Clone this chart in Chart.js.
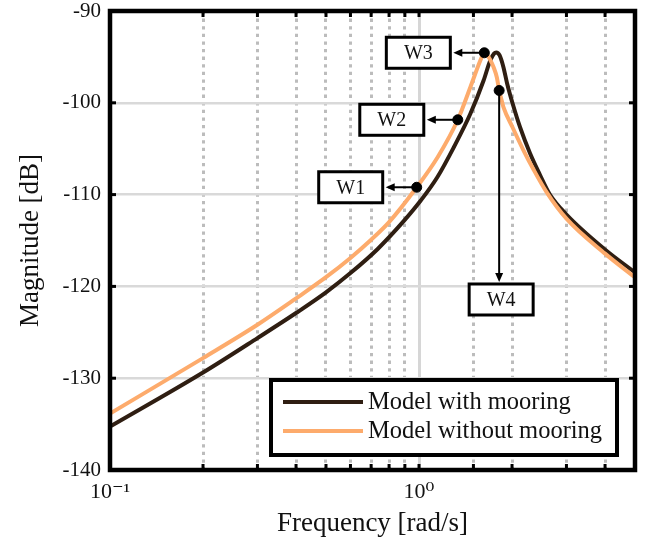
<!DOCTYPE html>
<html>
<head>
<meta charset="utf-8">
<script src="https://cdn.jsdelivr.net/npm/chart.js@4.4.0/dist/chart.umd.min.js"></script>
<style>
  html, body { margin: 0; padding: 0; background: #fff; }
  #wrap { width: 654px; height: 548px; }
</style>
</head>
<body>
<div id="wrap"><canvas id="chart" width="654" height="548"></canvas></div>
<script>
// Series (frequency in rad/s, magnitude in dB)
const seriesNames = ['Model with mooring', 'Model without mooring'];

const freqWith = [0.1, 0.2, 0.3, 0.4, 0.5, 0.6, 0.735, 0.895, 1.013, 1.146, 1.296, 1.466, 1.618, 1.70, 1.7515, 1.777, 1.824, 1.876, 1.928, 2.0055, 2.123, 2.2865, 2.462, 2.652, 3.0, 4.005, 5.0];
const magWith = [-135.27, -129.38, -125.63, -122.90, -120.65, -118.55, -115.92, -112.84, -110.65, -108.11, -104.84, -101.20, -97.57, -95.39, -94.62, -94.51, -94.84, -96.12, -97.90, -100.0, -102.66, -105.50, -107.84, -109.99, -112.17, -116.0, -118.48];

const freqWithout = [0.1, 0.2, 0.3, 0.4, 0.5, 0.6, 0.7, 0.8, 0.983, 1.15, 1.335, 1.466, 1.579, 1.6085, 1.627, 1.663, 1.7003, 1.7448, 1.7864, 1.817, 1.8537, 1.876, 2.0055, 2.1757, 2.343, 2.5873, 3.0, 4.0, 5.0];
const magWithout = [-133.85, -127.81, -124.18, -121.31, -119.0, -116.9, -114.92, -113.0, -109.2, -105.9, -101.85, -98.3, -95.39, -94.79, -94.55, -94.79, -95.33, -96.15, -97.24, -98.66, -99.80, -100.46, -102.64, -105.15, -107.22, -109.73, -112.62, -116.43, -119.02];

// Marked points (on the curve without mooring)
const markLabels = ['W1', 'W2', 'W3', 'W4'];
const markFreq = [0.983, 1.335, 1.627, 1.817];
const markMag = [-109.2, -101.85, -94.55, -98.66];

const yTickValues = [-140, -130, -120, -110, -100, -90];
const xMajorLabels = ['10⁻¹', '10⁰'];

// label box placement relative to each dot (pixels)
const markBoxOffset = [[-66, 0], [-66, 0], [-66, 0], [2, 209]];

const SERIF = '"Liberation Serif", "DejaVu Serif", serif';
const colWith = '#2f1e12';
const colWithout = '#fdab6c';

function toPoints(xs, ys) {
    return xs.map((x, i) => ({ x: x, y: ys[i] }));
}

function isDecade(v) {
    const l = Math.log10(v);
    return Math.abs(l - Math.round(l)) < 1e-6;
}

// frame, inward ticks, annotations and legend
const decorPlugin = {
    id: 'decor',
    afterDraw(chart) {
        const ctx = chart.ctx;
        const a = chart.chartArea;
        const xs = chart.scales.x, ys = chart.scales.y;
        ctx.save();

        // inward tick marks
        ctx.fillStyle = '#000';
        xs.ticks.forEach(t => {
            const px = xs.getPixelForValue(t.value);
            ctx.fillRect(px - 1.5, a.bottom - 6, 3, 6);
            ctx.fillRect(px - 1.5, a.top, 3, 6);
        });
        yTickValues.forEach(v => {
            const py = ys.getPixelForValue(v);
            ctx.fillRect(a.left, py - 1.5, 6, 3);
            ctx.fillRect(a.right - 6, py - 1.5, 6, 3);
        });

        // frame
        ctx.strokeStyle = '#000';
        ctx.lineWidth = 4.5;
        ctx.strokeRect(a.left, a.top, a.right - a.left, a.bottom - a.top);

        // annotation boxes and arrows
        const bw = 64, bh = 31;
        markLabels.forEach((lab, i) => {
            const px = xs.getPixelForValue(markFreq[i]);
            const py = ys.getPixelForValue(markMag[i]);
            const cx = px + markBoxOffset[i][0];
            const cy = py + markBoxOffset[i][1];
            ctx.strokeStyle = '#000';
            ctx.fillStyle = '#000';
            ctx.lineWidth = 2;
            let tipX, tipY;
            if (markBoxOffset[i][1] === 0) {
                tipX = cx + bw / 2 + 3; tipY = py;
                ctx.beginPath(); ctx.moveTo(px, py); ctx.lineTo(tipX + 6, tipY); ctx.stroke();
                ctx.beginPath();
                ctx.moveTo(tipX, tipY);
                ctx.lineTo(tipX + 9, tipY - 4);
                ctx.lineTo(tipX + 9, tipY + 4);
                ctx.closePath(); ctx.fill();
            } else {
                tipX = px; tipY = cy - bh / 2 - 2;
                ctx.beginPath(); ctx.moveTo(px, py); ctx.lineTo(tipX, tipY - 6); ctx.stroke();
                ctx.beginPath();
                ctx.moveTo(tipX, tipY);
                ctx.lineTo(tipX - 4, tipY - 9);
                ctx.lineTo(tipX + 4, tipY - 9);
                ctx.closePath(); ctx.fill();
            }
            ctx.fillStyle = '#fff';
            ctx.fillRect(cx - bw / 2, cy - bh / 2, bw, bh);
            ctx.lineWidth = 3;
            ctx.strokeRect(cx - bw / 2, cy - bh / 2, bw, bh);
            ctx.fillStyle = '#111';
            ctx.font = '20px ' + SERIF;
            ctx.textAlign = 'center';
            ctx.textBaseline = 'middle';
            ctx.fillText(lab, cx, cy + 1);
        });

        // legend
        const lw = 346, lh = 75;
        const lx = a.right - 18 - lw, ly = a.bottom - 15 - lh;
        ctx.fillStyle = '#fff';
        ctx.fillRect(lx, ly, lw, lh);
        ctx.strokeStyle = '#000';
        ctx.lineWidth = 4;
        ctx.strokeRect(lx, ly, lw, lh);
        chart.data.datasets.slice(0, 2).forEach((ds, i) => {
            const yy = ly + 22 + i * 29;
            ctx.strokeStyle = ds.borderColor;
            ctx.lineWidth = 4;
            ctx.beginPath(); ctx.moveTo(lx + 12, yy); ctx.lineTo(lx + 92, yy); ctx.stroke();
            ctx.fillStyle = '#111';
            ctx.font = '24.5px ' + SERIF;
            ctx.textAlign = 'left';
            ctx.textBaseline = 'middle';
            ctx.fillText(ds.label, lx + 97, yy + 1);
        });
        ctx.restore();
    }
};

new Chart(document.getElementById('chart'), {
    type: 'line',
    data: {
        datasets: [
            {
                label: seriesNames[0],
                data: toPoints(freqWith, magWith),
                borderColor: colWith,
                borderWidth: 4,
                pointRadius: 0,
                cubicInterpolationMode: 'monotone',
                order: 2
            },
            {
                label: seriesNames[1],
                data: toPoints(freqWithout, magWithout),
                borderColor: colWithout,
                borderWidth: 4,
                pointRadius: 0,
                cubicInterpolationMode: 'monotone',
                order: 1
            },
            {
                type: 'scatter',
                label: 'marks',
                data: toPoints(markFreq, markMag),
                backgroundColor: '#000',
                borderColor: '#000',
                pointRadius: 5,
                order: 0
            }
        ]
    },
    options: {
        responsive: false,
        animation: false,
        devicePixelRatio: 1,
        layout: { padding: { top: 0, right: 19, left: 0, bottom: 0 } },
        plugins: {
            legend: { display: false },
            tooltip: { enabled: false }
        },
        scales: {
            x: {
                type: 'logarithmic',
                min: 0.1,
                max: 5,
                afterFit: s => { s.height = 78; },
                grid: {
                    drawTicks: false,
                    color: c => {
                        const v = c.tick ? c.tick.value : 0;
                        if (v >= 4.99) return 'rgba(0,0,0,0)';
                        return isDecade(v) ? '#d6d6d6' : '#bcbcbc';
                    },
                    lineWidth: c => (c.tick && isDecade(c.tick.value)) ? 3 : 3
                },
                border: {
                    display: false,
                    dash: c => (c.tick && isDecade(c.tick.value)) ? [] : [3.3, 4.3]
                },
                ticks: {
                    autoSkip: false,
                    maxRotation: 0,
                    padding: 9,
                    color: '#111',
                    font: { family: SERIF, size: 22 },
                    callback: v => {
                        if (Math.abs(v - 0.1) < 1e-9) return xMajorLabels[0];
                        if (Math.abs(v - 1) < 1e-9) return xMajorLabels[1];
                        return '';
                    }
                },
                title: {
                    display: true,
                    text: 'Frequency [rad/s]',
                    color: '#111',
                    font: { family: SERIF, size: 27 },
                    padding: { top: 0, bottom: 8 }
                }
            },
            y: {
                min: -140,
                max: -90,
                afterFit: s => { s.width = 110; s.paddingTop = 11; },
                grid: { drawTicks: false, color: '#d9d9d9', lineWidth: 2.5 },
                border: { display: false },
                afterBuildTicks: s => { s.ticks = yTickValues.map(v => ({ value: v })); },
                ticks: {
                    padding: 9,
                    color: '#111',
                    font: { family: SERIF, size: 21 },
                    callback: v => String(v)
                },
                title: {
                    display: true,
                    text: 'Magnitude [dB]',
                    color: '#111',
                    font: { family: SERIF, size: 27 },
                    padding: { top: 15, bottom: 0 }
                }
            }
        }
    },
    plugins: [decorPlugin]
});
</script>
</body>
</html>
